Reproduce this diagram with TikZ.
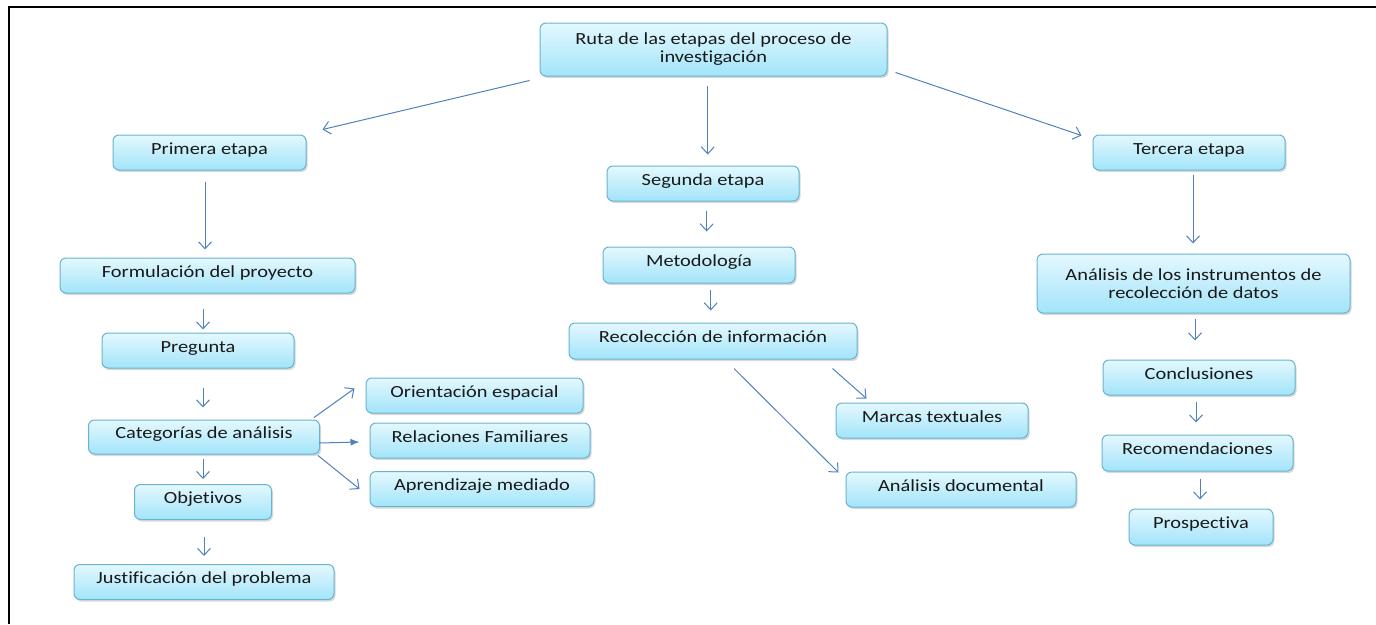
\documentclass[tikz,border=0pt]{standalone}
\usepackage{fontspec}
\setmainfont{Carlito}[FakeStretch=1.2, Ligatures=NoCommon]
\usetikzlibrary{arrows.meta,shadows}

\definecolor{boxtop}{RGB}{228,248,254}
\definecolor{boxbottom}{RGB}{162,228,250}
\definecolor{boxline}{RGB}{104,180,206}
\definecolor{arrowblue}{RGB}{79,129,189}

\begin{document}
\begin{tikzpicture}[y=-1pt, x=1pt]
	\tikzstyle{every node}=[font=\fontsize{17}{18}\selectfont, text=black!90]
	\tikzstyle{etapa}=[draw=boxline, line width=1pt, rounded corners=6pt, top color=boxtop, bottom color=boxbottom, minimum height=35pt, inner sep=0pt, align=center, drop shadow={shadow xshift=1.5pt, shadow yshift=-2pt, opacity=0.3, fill=black!50}]
	\tikzstyle{linea}=[etapa, text height=12pt, text depth=9pt]
	\tikzstyle{flecha}=[draw=arrowblue, line width=1pt, -{Straight Barb[length=7pt, width=13pt]}]

	\useasboundingbox (0,0) rectangle (1376,624);

	%frame
	\draw[line width=1.5pt] (9,624) -- (9,7) -- (1376,7);

	%boxes
	\node[etapa, minimum width=347pt, minimum height=53pt] (ruta) at (713.5,49.5) {Ruta de las etapas del proceso de\\investigación};
	\node[linea, minimum width=193pt] (primera) at (209.5,152.5) {Primera etapa};
	\node[linea, minimum width=295pt] (formulacion) at (207.5,275.5) {Formulación del proyecto};
	\node[linea, minimum width=192pt] (pregunta) at (198,350.5) {Pregunta};
	\node[linea, minimum width=231pt, minimum height=34pt] (categorias) at (204,437) {Categorías de análisis};
	\node[linea, minimum width=137pt] (objetivos) at (203,502) {Objetivos};
	\node[linea, minimum width=260pt] (justificacion) at (204,582) {Justificación del problema};
	\node[linea, minimum width=217pt] (orientacion) at (474.5,395.5) {Orientación espacial};
	\node[linea, minimum width=220pt] (relaciones) at (480,440.5) {Relaciones Familiares};
	\node[linea, minimum width=224pt] (aprendizaje) at (482,489) {Aprendizaje mediado};
	\node[linea, minimum width=192pt] (segunda) at (703,183.5) {Segunda etapa};
	\node[linea, minimum width=192pt, minimum height=36pt] (metodologia) at (699,265) {Metodología};
	\node[linea, minimum width=288pt, minimum height=36pt] (recoleccion) at (713,341) {Recolección de información};
	\node[linea, minimum width=192pt] (marcas) at (932,420.5) {Marcas textuales};
	\node[linea, minimum width=230pt] (documental) at (961,489.5) {Análisis documental};
	\node[linea, minimum width=192pt] (tercera) at (1189,152.5) {Tercera etapa};
	\node[etapa, minimum width=313pt, minimum height=59pt] (instrumentos) at (1193.5,283.5) {Análisis de los instrumentos de\\recolección de datos};
	\node[linea, minimum width=192pt] (conclusiones) at (1199,377.5) {Conclusiones};
	\node[linea, minimum width=191pt, minimum height=36pt] (recomendaciones) at (1197.5,453) {Recomendaciones};
	\node[linea, minimum width=144pt, minimum height=36pt] (prospectiva) at (1201,527) {Prospectiva};

	%arrows from the top
	\draw[flecha] ([xshift=-10pt, yshift=-4pt]ruta.south west) -- ([xshift=16pt, yshift=5pt]primera.north east);
	\draw[flecha] ([xshift=-5.8pt, yshift=-9pt]ruta.south) -- ([xshift=4.7pt, yshift=11pt]segunda.north);
	\draw[flecha] ([xshift=8pt, yshift=4pt]ruta.south east) -- ([xshift=-11pt, yshift=-1pt]tercera.north west);

	%first stage
	\draw[flecha] ([xshift=-4.5pt, yshift=-11pt]primera.south) -- ([xshift=-2.5pt, yshift=8pt]formulacion.north);
	\draw[flecha] ([xshift=-4.5pt, yshift=-15pt]formulacion.south) -- ([xshift=5pt, yshift=3pt]pregunta.north);
	\draw[flecha] ([xshift=5pt, yshift=-19pt]pregunta.south) -- ([xshift=-1pt, yshift=12pt]categorias.north);
	\draw[flecha] ([xshift=-1pt, yshift=-4pt]categorias.south) -- ([yshift=5pt]objetivos.north);
	\draw[flecha] ([xshift=1pt, yshift=-17pt]objetivos.south) -- ([yshift=8pt]justificacion.north);
	\draw[flecha] ([xshift=-6pt, yshift=2pt]categorias.north east) -- ([xshift=-11pt, yshift=7pt]orientacion.west);
	\draw[arrowblue, line width=1pt, -{Latex[length=9pt, width=7pt]}] ([xshift=-1pt, yshift=-6pt]categorias.east) -- ([xshift=-10pt, yshift=-1.5pt]relaciones.west);
	\draw[flecha] ([xshift=-2pt, yshift=-1pt]categorias.south east) -- ([xshift=-10pt]aprendizaje.west);

	%second stage
	\draw[flecha] ([xshift=3.7pt, yshift=-9pt]segunda.south) -- ([xshift=7.7pt, yshift=15pt]metodologia.north);
	\draw[flecha] ([xshift=11.7pt, yshift=-6pt]metodologia.south) -- ([xshift=-2.3pt, yshift=12pt]recoleccion.north);
	\draw[flecha] ([xshift=-25pt, yshift=-9pt]recoleccion.south east) -- ([xshift=31pt, yshift=4pt]marcas.north west);
	\draw[flecha] ([xshift=21pt, yshift=-9pt]recoleccion.south) -- ([xshift=-7pt, yshift=-1pt]documental.north west);

	%third stage
	\draw[flecha] ([xshift=4pt, yshift=-4pt]tercera.south) -- ([xshift=-0.5pt, yshift=10pt]instrumentos.north);
	\draw[flecha] ([xshift=1.5pt, yshift=-5pt]instrumentos.south) -- ([xshift=-4pt, yshift=19pt]conclusiones.north);
	\draw[flecha] ([xshift=-3pt, yshift=-6pt]conclusiones.south) -- ([xshift=-1.5pt, yshift=12pt]recomendaciones.north);
	\draw[flecha] ([xshift=2.5pt, yshift=-7pt]recomendaciones.south) -- ([xshift=-1pt, yshift=9pt]prospectiva.north);
\end{tikzpicture}
\end{document}
